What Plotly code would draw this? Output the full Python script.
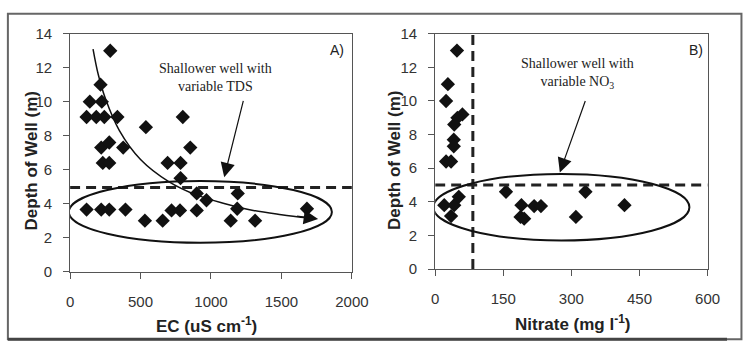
import plotly.graph_objects as go
from plotly.subplots import make_subplots

W, H = 744, 351

# ---- Panel A data: EC (uS/cm) vs depth of well (m)
ec_x = [285, 216, 140, 225, 117, 186, 243, 336, 538, 800, 221, 278, 377, 853,
        232, 278, 692, 784, 784,
        899, 968, 1190, 117, 221, 278, 393, 531, 657, 720, 780, 899, 1140, 1186,
        1313, 1681]
ec_y = [13.0, 11.0, 10.0, 10.0, 9.1, 9.1, 9.1, 9.1, 8.5, 9.1, 7.3, 7.6, 7.3, 7.3,
        6.4, 6.4, 6.4, 6.4, 5.5,
        4.6, 4.2, 4.6, 3.65, 3.65, 3.65, 3.65, 3.0, 3.0, 3.6, 3.6, 3.6, 3.0, 3.7,
        3.0, 3.7]

# trend curve
trend_x = [163, 200, 250, 350, 500, 700, 900, 1100, 1300, 1500, 1700]
trend_y = [13.1, 11.6, 10.2, 8.3, 6.6, 5.3, 4.5, 4.0, 3.6, 3.35, 3.15]

# ---- Panel B data: Nitrate (mg/l) vs depth of well (m)
no3_x = [48, 28, 24, 60, 49, 42, 41, 41, 24, 35,
         20, 35, 42, 52, 156, 190, 188, 196, 218, 233, 310, 331, 417]
no3_y = [13.0, 11.0, 10.0, 9.2, 9.0, 8.6, 7.7, 7.3, 6.4, 6.4,
         3.8, 3.15, 3.8, 4.3, 4.6, 3.8, 3.1, 3.0, 3.75, 3.75, 3.1, 4.6, 3.8]

xa_ticks = [0, 500, 1000, 1500, 2000]
xb_ticks = [0, 150, 300, 450, 600]
y_ticks = [0, 2, 4, 6, 8, 10, 12, 14]

ink = "#111111"
axcol = "#555555"
tickcol = "#333333"

fig = make_subplots(rows=1, cols=2)

fig.add_trace(go.Scatter(x=trend_x, y=trend_y, mode="lines", line=dict(color=ink, width=1.5, shape="spline"),
                         hoverinfo="skip"), 1, 1)
fig.add_trace(go.Scatter(x=ec_x, y=ec_y, mode="markers",
                         marker=dict(symbol="diamond", size=11, color=ink)), 1, 1)
fig.add_trace(go.Scatter(x=no3_x, y=no3_y, mode="markers",
                         marker=dict(symbol="diamond", size=11, color=ink)), 1, 2)

axis_common = dict(showline=True, linecolor=axcol, linewidth=1, mirror=True, showgrid=False,
                   zeroline=False, ticks="outside", ticklen=6, tickcolor=axcol,
                   tickfont=dict(family="Liberation Sans, Arial", size=15, color=tickcol))

fig.update_xaxes(axis_common)
fig.update_yaxes(axis_common)

fig.update_layout(
    width=W, height=H, showlegend=False,
    margin=dict(l=0, r=0, t=0, b=0),
    paper_bgcolor="white", plot_bgcolor="white",
    xaxis=dict(domain=[68 / W, 358 / W], range=[0, 2000], tickvals=xa_ticks, ticklabelstandoff=10),
    yaxis=dict(domain=[1 - 276 / H, 1 - 26 / H], range=[0, 14], tickvals=y_ticks, ticklabelstandoff=8),
    xaxis2=dict(domain=[443.7 / W, 724 / W], range=[0, 600], tickvals=xb_ticks, ticklabelstandoff=10),
    yaxis2=dict(domain=[1 - 273.3 / H, 1 - 26 / H], range=[0, 14], tickvals=y_ticks, ticklabelstandoff=8),
)

dash = dict(color="#222222", width=3, dash="10px,6px")
shapes = [
    # outer frame
    dict(type="rect", xref="paper", yref="paper", x0=4 / W, x1=1.02, y0=1 - 347 / H, y1=1 - 5 / H,
         line=dict(color="#666666", width=2)),
    dict(type="line", xref="paper", yref="paper", x0=4 / W, x1=1.0, y0=1 - 347 / H, y1=1 - 347 / H,
         line=dict(color="#444444", width=3)),
    # panel A
    dict(type="line", xref="x", yref="y", x0=0, x1=2000, y0=4.95, y1=4.95, line=dash),
    dict(type="circle", xref="x", yref="y", x0=-9, x1=1858, y0=1.7, y1=5.33, line=dict(color=ink, width=2)),
    # panel B
    dict(type="line", xref="x2", yref="y2", x0=0, x1=600, y0=5.0, y1=5.0, line=dash),
    dict(type="line", xref="x2", yref="y2", x0=83, x1=83, y0=0, y1=14, line=dash),
    dict(type="circle", xref="x2", yref="y2", x0=-4, x1=560, y0=1.7, y1=5.66, line=dict(color=ink, width=2)),
]
fig.update_layout(shapes=shapes)

serif = dict(family="Liberation Serif, Times New Roman", size=14, color="#222222")
sans_b = dict(family="Liberation Sans, Arial", size=17, color="#222222")
C = dict(xanchor="center", yanchor="middle", showarrow=False)
arrow = dict(showarrow=True, arrowhead=2, arrowsize=2.4, arrowwidth=1.2, arrowcolor=ink, text="")
anns = [
    dict(xref="x", yref="y", x=1034, y=11.45, text="Shallower well with<br>variable TDS", font=serif, **C),
    dict(xref="x", yref="y", x=1094, y=5.56, ax=1232, ay=10.14, axref="x", ayref="y", **arrow),
    dict(xref="x", yref="y", x=1760, y=3.1, ax=1600, ay=3.28, axref="x", ayref="y", **arrow),
    dict(xref="x", yref="y", x=1897, y=13.05, text="A)",
         font=dict(family="Liberation Sans, Arial", size=14, color="#222222"), **C),
    dict(xref="x2", yref="y2", x=313, y=11.62, text="Shallower well with<br>variable NO<sub>3</sub>", font=serif, **C),
    dict(xref="x2", yref="y2", x=274.6, y=5.75, ax=331.8, ay=10.09, axref="x2", ayref="y2", **arrow),
    dict(xref="x2", yref="y2", x=574, y=13.04, text="B)",
         font=dict(family="Liberation Sans, Arial", size=14, color="#222222"), **C),
    # axis titles
    dict(xref="paper", yref="paper", x=208 / W, y=1 - 332 / H, text="<b>EC (uS cm<sup>-1</sup>)</b>",
         font=sans_b, **C),
    dict(xref="paper", yref="paper", x=585 / W, y=1 - 330 / H, text="<b>Nitrate (mg l<sup>-1</sup>)</b>",
         font=sans_b, **C),
    dict(xref="paper", yref="paper", x=28 / W, y=1 - 160 / H, text="<b>Depth of Well (m)</b>",
         textangle=-90, font=sans_b, **C),
    dict(xref="paper", yref="paper", x=402 / W, y=1 - 159 / H, text="<b>Depth of Well (m)</b>",
         textangle=-90, font=sans_b, **C),
]
fig.update_layout(annotations=anns)

fig.write_html("out.html")
